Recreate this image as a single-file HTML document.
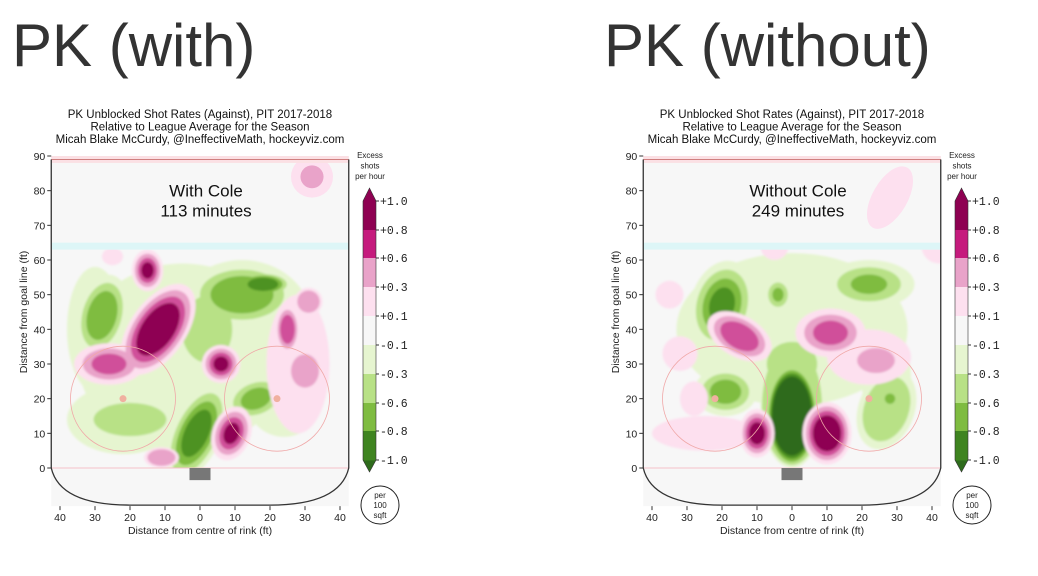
<!DOCTYPE html>
<html><head><meta charset="utf-8"><style>
html,body{margin:0;padding:0;background:#fff;}
svg{display:block;font-family:"Liberation Sans","DejaVu Sans",sans-serif;}
</style></head><body>
<svg id="s" width="1038" height="576" viewBox="0 0 1038 576" xmlns="http://www.w3.org/2000/svg">
<text x="12" y="66" font-size="60" fill="#333">PK (with)</text>
<text x="604" y="66" font-size="60" fill="#333">PK (without)</text>
</svg>
<script>
const S=document.getElementById('s');const NS='http://www.w3.org/2000/svg';
function el(t,a,p){const e=document.createElementNS(NS,t);for(const k in a)e.setAttribute(k,a[k]);(p||S).appendChild(e);return e;}
const P=['#fde0ef','#e9a3c9','#d0509a','#8e0152'];
const G=['#e6f5d0','#b8e186','#7fbc41','#4d9221','#2e6b1c'];
// blob: [cx,cy,rx,ry,rot,sign,levels,step]
const L=[
 [-5,32,30,27,0,'g',1],[12,42,20,18,0,'g',1],[-22,14,16,10,0,'g',1],[24,18,10,9,0,'g',1],[-30,40,8,18,0,'g',1],
 [12,50,15,9,0,'g',3,0.2],[2,40,9,12,0,'g',2],[-28,44,7,12,15,'g',3,0.2],[-20,14,13,6,0,'g',2],
 [-1,10,7,15,25,'g',4,0.17],[16,20,9,6,-20,'g',3,0.25],[18,53,8,3.5,0,'g',4,0.15],
 [-12,40,8,15,35,'p',4,0.14],[-15,57,4.5,6,0,'p',4,0.2],[-26,30,10,6,0,'p',3,0.25],
 [6,30,5.5,5.5,0,'p',4,0.2],[9,10,5.5,8,20,'p',4,0.2],[28,30,9,20,0,'p',1],[30,28,5,6,0,'p',2],
 [25,40,3.5,7,0,'p',3,0.2],[31,48,4,4,0,'p',2],[-11,3,5,3,0,'p',2],[32,84,6,6,0,'p',2,0.45],[-25,61,3,2.5,0,'p',1]
];
const R=[
 [0,40,33,22,0,'g',1],[27,25,7,18,0,'g',1],[0,18,9,18,0,'g',2,0.05],[0,30,9,8,0,'g',2],
 [0,15,7.5,15,0,'g',5,0.06],
 [-20,47,9,13,15,'g',4,0.2],[-4,50,4,5,0,'g',3,0.3],
 [22,53,13,7,0,'g',3,0.3],[-19,22,9,7,0,'g',3,0.25],
 [27,17,8,12,20,'g',2],[28,20,1.5,1.5,0,'g',3,0],
 [-15,38,10,6,30,'p',3,0.2],[11,39,10,7,0,'p',3,0.25],
 [-25,10,15,5,0,'p',1],[-10,10,5,7,0,'p',4,0.18],[10,10,7,9,0,'p',4,0.14],
 [22,32,12,8,0,'p',1],[24,31,6,4,0,'p',2,0.1],[-32,33,5,5,0,'p',1],[-35,50,4,4,0,'p',1],[-28,20,4,5,0,'p',1],
 [28,78,5,10,30,'p',1],[-5,64,4,4,0,'p',1],[42,64,5,5,0,'p',1]
];
function chart(ox,blobs,titleA,titleB,idn){
 const cx=ox+200,cy=468,sx=3.5,sy=312/90;
 const X=v=>cx+v*sx,Y=v=>cy-v*sy;
 ['PK Unblocked Shot Rates (Against), PIT 2017-2018','Relative to League Average for the Season','Micah Blake McCurdy, @IneffectiveMath, hockeyviz.com'].forEach((t,i)=>{
  el('text',{x:cx,y:118+i*12.5,'font-size':11.5,'text-anchor':'middle',fill:'#111'}).textContent=t;});
 el('rect',{x:X(-42.5),y:Y(90),width:85*sx,height:101*sy,fill:'#f7f7f7'});
 const defs=el('defs',{});const cp=el('clipPath',{id:'c'+idn},defs);
 el('rect',{x:X(-42.5),y:Y(63),width:85*sx,height:63*sy},cp);
 const bl=el('filter',{id:'f'+idn},defs);el('feGaussianBlur',{stdDeviation:1},bl);
 const g=el('g',{'clip-path':'url(#c'+idn+')'});const g3=el('g',{filter:'url(#f'+idn+')'},g);
 const draw=(b,i,par)=>{const [x,y,rx,ry,rot,s,n,st]=b;const cols=s=='g'?G:P;const f=1-i*(st===undefined?0.2:st);
   el('ellipse',{cx:X(x),cy:Y(y),rx:Math.max(rx*sx*f,1.5),ry:Math.max(ry*sy*f,1.5),fill:cols[i],transform:`rotate(${rot} ${X(x)} ${Y(y)})`},par);};
 ['g','p'].forEach(sg=>{for(let i=0;i<5;i++)blobs.forEach(b=>{if(b[5]==sg&&b[6]>i&&b[1]<=65)draw(b,i,g3);});});
 for(let i=0;i<3;i++)blobs.forEach(b=>{if(b[1]>65&&b[6]>i)draw(b,i,S);});
 el('rect',{x:X(-42.5),y:Y(65),width:85*sx,height:2*sy,fill:'#ddf6f7'});
 el('rect',{x:X(-42.5),y:Y(90),width:85*sx,height:2*sy,fill:'#fbe0e4'});
 el('line',{x1:X(-42.5),x2:X(42.5),y1:Y(89),y2:Y(89),stroke:'#d08080','stroke-width':1});
 el('line',{x1:X(-42.5),x2:X(42.5),y1:Y(0),y2:Y(0),stroke:'#f4c0c8','stroke-width':1});
 [-22,22].forEach(v=>{el('circle',{cx:X(v),cy:Y(20),r:15*sx,fill:'none',stroke:'#f0a8a8','stroke-width':0.8});
  el('circle',{cx:X(v),cy:Y(20),r:3.5,fill:'#f0b0a0'});});
 el('rect',{x:X(-3),y:Y(0),width:6*sx,height:3.5*sy,fill:'#777'});
 el('path',{d:`M${X(-42.5)},${Y(89)} L${X(-42.5)},${Y(0)} Q${X(-40)},${Y(-10.7)} ${X(-20)},${Y(-10.7)} L${X(20)},${Y(-10.7)} Q${X(40)},${Y(-10.7)} ${X(42.5)},${Y(0)} L${X(42.5)},${Y(89)}`,fill:'none',stroke:'#333','stroke-width':1.3});
 for(let v=0;v<=90;v+=10){el('line',{x1:X(-42.5)-4,x2:X(-42.5),y1:Y(v),y2:Y(v),stroke:'#333'});
  el('text',{x:X(-42.5)-6,y:Y(v)+4,'font-size':10.5,'text-anchor':'end',fill:'#222'}).textContent=v;}
 for(let v=-40;v<=40;v+=10){el('line',{x1:X(v),x2:X(v),y1:Y(-11),y2:Y(-11)+4,stroke:'#333'});
  el('text',{x:X(v),y:521,'font-size':10.5,'text-anchor':'middle',fill:'#222'}).textContent=Math.abs(v);}
 el('text',{x:cx,y:534,'font-size':10.5,'text-anchor':'middle',fill:'#222'}).textContent='Distance from centre of rink (ft)';
 el('text',{x:0,y:0,'font-size':10.5,'text-anchor':'middle',fill:'#222',transform:`translate(${ox+27},${Y(45)}) rotate(-90)`}).textContent='Distance from goal line (ft)';
 el('text',{x:cx+6,y:Y(80)+6,'font-size':17,'text-anchor':'middle',fill:'#111'}).textContent=titleA;
 el('text',{x:cx+6,y:Y(80)+26,'font-size':17,'text-anchor':'middle',fill:'#111'}).textContent=titleB;
 const bx=ox+363,bw=13;const cols=['#8e0152','#c51b7d','#e9a3c9','#fde0ef','#f7f7f7','#e6f5d0','#b8e186','#7fbc41','#3f8420'];
 const ys=[201,230,258,287,316,345,374,403,431,460];
 el('polygon',{points:`${bx},201 ${bx+bw/2},188 ${bx+bw},201`,fill:'#8e0152'});
 el('polygon',{points:`${bx},460 ${bx+bw/2},472 ${bx+bw},460`,fill:'#2e6b1c'});
 for(let i=0;i<9;i++)el('rect',{x:bx,y:ys[i],width:bw,height:ys[i+1]-ys[i]+0.5,fill:cols[i]});
 el('path',{d:`M${bx},201 L${bx+bw/2},188 L${bx+bw},201 L${bx+bw},460 L${bx+bw/2},472 L${bx},460 Z`,fill:'none',stroke:'#333','stroke-width':0.6});
 ['+1.0','+0.8','+0.6','+0.3','+0.1','-0.1','-0.3','-0.6','-0.8','-1.0'].forEach((t,i)=>{
  el('line',{x1:bx+bw,x2:bx+bw+3,y1:ys[i],y2:ys[i],stroke:'#333'});
  el('text',{x:bx+bw+4,y:ys[i]+4,'font-size':11.5,'font-family':'Liberation Mono, monospace',fill:'#222'}).textContent=t;});
 ['Excess','shots','per hour'].forEach((t,i)=>el('text',{x:bx+7,y:158+i*10.5,'font-size':8,'text-anchor':'middle',fill:'#222'}).textContent=t);
 el('circle',{cx:bx+17,cy:505,r:19,fill:'none',stroke:'#222','stroke-width':1});
 ['per','100','sqft'].forEach((t,i)=>el('text',{x:bx+17,y:498+i*10,'font-size':8,'text-anchor':'middle',fill:'#222'}).textContent=t);
}
chart(0,L,'With Cole','113 minutes',1);
chart(592,R,'Without Cole','249 minutes',2);
</script>
</body></html>
